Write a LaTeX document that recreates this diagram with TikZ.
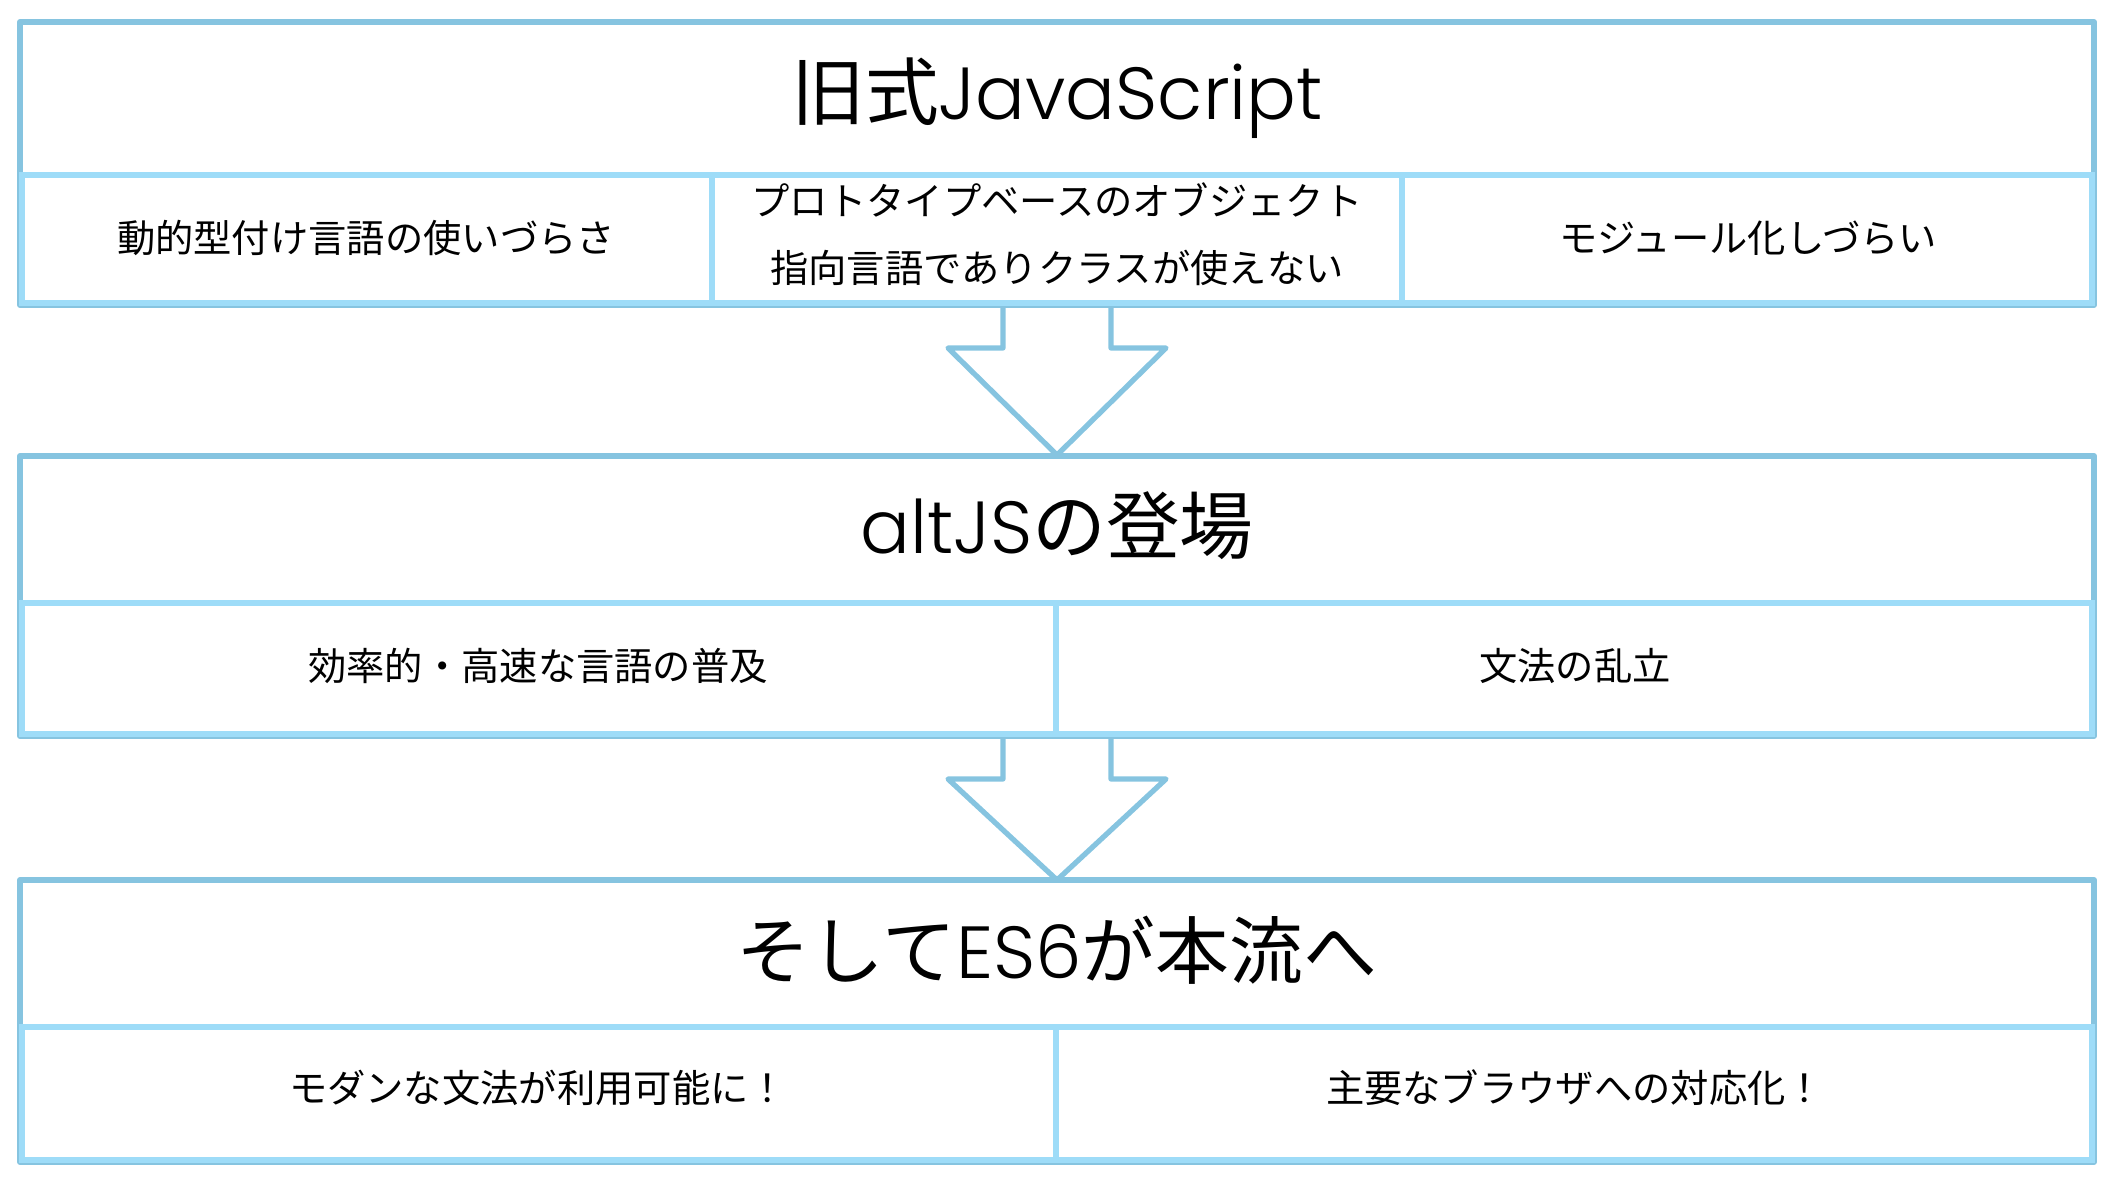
\documentclass[tikz,border=0pt]{standalone}
\usepackage{fontspec}
\setmainfont{Poppins Light}
\newfontfamily\jp{Noto Sans CJK JP}
\usetikzlibrary{calc}
\definecolor{dk}{HTML}{86C4E0}
\definecolor{lt}{HTML}{9EDCF8}
\begin{document}
\begin{tikzpicture}[x=0.02cm,y=-0.02cm,
  titletext/.style={font=\fontsize{42}{48}\selectfont, inner sep=0pt},
  subtext/.style={font=\jp\fontsize{21.8}{38}\selectfont, align=center, inner sep=0pt},
  outerbox/.style={draw=dk, line width=3.4pt, line join=round},
  cellbox/.style={draw=lt, line width=3.4pt},
  blockarrow/.style={draw=dk, line width=3pt, line join=round, line cap=round}]
\useasboundingbox (0,0) rectangle (2118,1188);

% arrow anchor coordinates
\coordinate (a1s) at (1057,305);
\coordinate (a1e) at (1057,455);
\coordinate (a2s) at (1057,736);
\coordinate (a2e) at (1057,880);

% block arrows
\draw[blockarrow] ($(a1s)+(-54,0)$) -- ($(a1s)+(-54,43)$) -- ($(a1s)+(-109,43)$) -- (a1e)
  -- ($(a1s)+(109,43)$) -- ($(a1s)+(54,43)$) -- ($(a1s)+(54,0)$);
\draw[blockarrow] ($(a2s)+(-54,0)$) -- ($(a2s)+(-54,43)$) -- ($(a2s)+(-109,43)$) -- (a2e)
  -- ($(a2s)+(109,43)$) -- ($(a2s)+(54,43)$) -- ($(a2s)+(54,0)$);

% box 1
\draw[outerbox] (20,22) rectangle (2094,305);
\draw[cellbox] (22,175) rectangle (712,303);
\draw[cellbox] (712,175) rectangle (1402,303);
\draw[cellbox] (1402,175) rectangle (2092,303);

% box 2
\draw[outerbox] (20,456) rectangle (2094,736);
\draw[cellbox] (22,603) rectangle (1056,734);
\draw[cellbox] (1056,603) rectangle (2092,734);

% box 3
\draw[outerbox] (20,880) rectangle (2094,1162);
\draw[cellbox] (22,1027) rectangle (1056,1160);
\draw[cellbox] (1056,1027) rectangle (2092,1160);

% texts
\node[titletext] (t1) at (1057,98) {{\jp 旧式}JavaScript};
\node[subtext] (s11) at (366,238) {動的型付け言語の使いづらさ};
\node[subtext] (s12) at (1057,234) {プロトタイプベースのオブジェクト\\指向言語でありクラスが使えない};
\node[subtext] (s13) at (1748,238) {モジュール化しづらい};

\node[titletext] (t2) at (1057,526) {altJS{\jp の登場}};
\node[subtext] (s21) at (538,666) {効率的・高速な言語の普及};
\node[subtext] (s22) at (1575,666) {文法の乱立};

\node[titletext] (t3) at (1057,950) {{\jp そして}ES6{\jp が本流へ}};
\node[subtext] (s31) at (538,1088) {モダンな文法が利用可能に！};
\node[subtext] (s32) at (1575,1088) {主要なブラウザへの対応化！};
\end{tikzpicture}
\end{document}
